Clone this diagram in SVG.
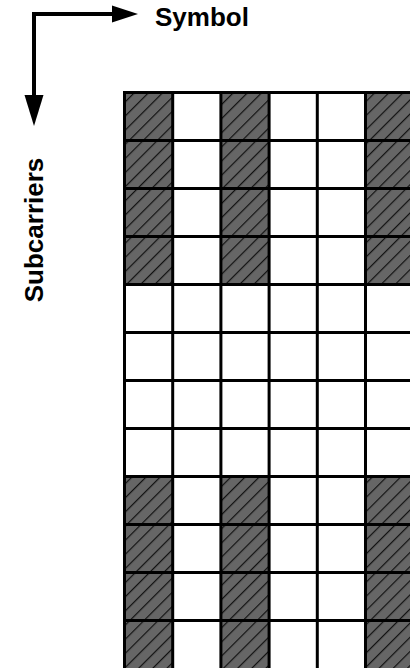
<svg xmlns="http://www.w3.org/2000/svg" width="410" height="668" viewBox="0 0 410 668">
<style>
.lbl{font-family:"Liberation Sans",Arial,sans-serif;font-weight:bold;font-size:26px;fill:#000}
.ax{stroke:#000;stroke-width:4;fill:none;stroke-linejoin:miter}
.hd{fill:#000}
.gl{stroke:#000;stroke-width:3}
.h{fill:url(#hatch)}
</style>
<defs>
<pattern id="hatch" patternUnits="userSpaceOnUse" width="10" height="10" patternTransform="rotate(45)">
<rect width="10" height="10" fill="#666"/>
<line x1="0" y1="0" x2="0" y2="10" stroke="#111" stroke-width="2.4"/>
</pattern>
</defs>
<rect width="410" height="668" fill="#fff"/>
<g id="axes">
<path class="ax" d="M34,98 V14 H114"/>
<polygon class="hd" points="112,5.5 138,14 112,22.5"/>
<polygon class="hd" points="24.5,95 43.5,95 34,126"/>
</g>
<text id="symbol" class="lbl" x="155" y="26">Symbol</text>
<text id="subcarriers" class="lbl" transform="translate(43,230) rotate(-90)" text-anchor="middle">Subcarriers</text>
<g id="hatched">
<rect class="h" x="124.5" y="92.5" width="48.2" height="192"/>
<rect class="h" x="220.9" y="92.5" width="48.2" height="192"/>
<rect class="h" x="365.5" y="92.5" width="48.2" height="192"/>
<rect class="h" x="124.5" y="476.5" width="48.2" height="192"/>
<rect class="h" x="220.9" y="476.5" width="48.2" height="192"/>
<rect class="h" x="365.5" y="476.5" width="48.2" height="192"/>
</g>
<g id="grid" class="gl">
<line x1="124.5" y1="92.5" x2="124.5" y2="670"/>
<line x1="172.7" y1="92.5" x2="172.7" y2="670"/>
<line x1="220.9" y1="92.5" x2="220.9" y2="670"/>
<line x1="269.1" y1="92.5" x2="269.1" y2="670"/>
<line x1="317.3" y1="92.5" x2="317.3" y2="670"/>
<line x1="365.5" y1="92.5" x2="365.5" y2="670"/>
<line x1="123" y1="92.5" x2="412" y2="92.5"/>
<line x1="123" y1="140.5" x2="412" y2="140.5"/>
<line x1="123" y1="188.5" x2="412" y2="188.5"/>
<line x1="123" y1="236.5" x2="412" y2="236.5"/>
<line x1="123" y1="284.5" x2="412" y2="284.5"/>
<line x1="123" y1="332.5" x2="412" y2="332.5"/>
<line x1="123" y1="380.5" x2="412" y2="380.5"/>
<line x1="123" y1="428.5" x2="412" y2="428.5"/>
<line x1="123" y1="476.5" x2="412" y2="476.5"/>
<line x1="123" y1="524.5" x2="412" y2="524.5"/>
<line x1="123" y1="572.5" x2="412" y2="572.5"/>
<line x1="123" y1="620.5" x2="412" y2="620.5"/>
</g>
</svg>
